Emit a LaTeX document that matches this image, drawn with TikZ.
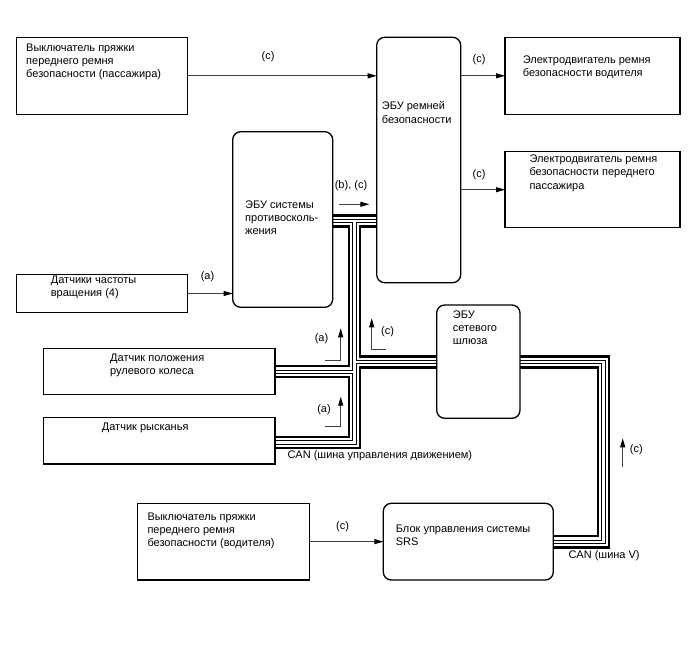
\documentclass[tikz,border=0pt]{standalone}
\usepackage{fontspec}
\setmainfont{Liberation Sans}
\usetikzlibrary{arrows.meta}
\pgfdeclarelayer{background}
\pgfsetlayers{background,main}
\begin{document}
\begin{tikzpicture}[x=1pt,y=-1pt,
  box/.style={draw=black, line width=1.3pt, fill=white, inner sep=0pt, outer sep=0pt},
  rbox/.style={box, rounded corners=8pt},
  txt/.style={font=\fontsize{11}{13.2}\selectfont, anchor=north west, inner sep=0pt, align=left},
  lbl/.style={font=\fontsize{11}{13.2}\selectfont, inner sep=0pt},
  arr/.style={draw=black!75, line width=0.9pt, -{Triangle[length=9pt,width=5pt,color=black]}},
  busA/.style={draw=black, line width=13.5pt, line join=miter, line cap=butt},
  busB/.style={draw=white, line width=8.9pt, line join=miter, line cap=butt},
  busC/.style={draw=black, line width=4.4pt, line join=miter, line cap=butt},
  busD/.style={draw=white, line width=2.2pt, line join=miter, line cap=butt}]
\useasboundingbox (0,0) rectangle (688,658);

% boxes
\node[box, minimum width=171pt, minimum height=77pt] (pbs) at (102.2,75.8) {};
\node[rbox, minimum width=84pt, minimum height=245.4pt] (sbe) at (418.7,160) {};
\node[box, minimum width=175pt, minimum height=77pt] (m1) at (592.5,75.8) {};
\node[box, minimum width=175pt, minimum height=76pt] (m2) at (592.5,189.7) {};
\node[rbox, minimum width=100pt, minimum height=175.6pt] (abs) at (282.7,219.5) {};
\node[box, minimum width=171pt, minimum height=38.4pt] (wss) at (102.2,293.5) {};
\node[box, minimum width=231.7pt, minimum height=45.6pt] (steer) at (159.15,371.5) {};
\node[box, minimum width=231.7pt, minimum height=46.3pt] (yaw) at (159.15,440.85) {};
\node[rbox, minimum width=83.3pt, minimum height=113.3pt] (gw) at (478.35,361.65) {};
\node[box, minimum width=172pt, minimum height=76.7pt] (dbs) at (223.3,541.65) {};
\node[rbox, minimum width=170pt, minimum height=76.7pt] (srs) at (468.3,541.65) {};

% box texts
\node[txt] (tpbs) at (26,43.8) {Выключатель пряжки\\переднего ремня\\безопасности (пассажира)};
\node[txt] (tsbe) at (381.7,101.5) {ЭБУ ремней\\безопасности};
\node[txt] (tm1) at (522.7,55.5) {Электродвигатель ремня\\безопасности водителя};
\node[txt] (tm2) at (529.3,154.8) {Электродвигатель ремня\\безопасности переднего\\пассажира};
\node[txt] (tabs) at (245,200.5) {ЭБУ системы\\противосколь-\\жения};
\node[txt] (twss) at (50.7,275.5) {Датчики частоты\\вращения (4)};
\node[txt] (tsteer) at (110,353.8) {Датчик положения\\рулевого колеса};
\node[txt] (tyaw) at (101.7,422.8) {Датчик рысканья};
\node[txt] (tgw) at (452.7,310.5) {ЭБУ\\сетевого\\шлюза};
\node[txt] (tdbs) at (147.3,512.8) {Выключатель пряжки\\переднего ремня\\безопасности (водителя)};
\node[txt] (tsrs) at (395.7,524.8) {Блок управления системы\\SRS};

% labels
\node[lbl] (lc1) at (268,56.7) {(c)};
\node[lbl] (lc2) at (479,60) {(c)};
\node[lbl] (lc3) at (479,175) {(c)};
\node[lbl] (lbc) at (351,185.7) {(b), (c)};
\node[lbl] (la1) at (207.5,276.7) {(a)};
\node[lbl] (la2) at (321.5,338.3) {(a)};
\node[lbl] (la3) at (324,410) {(a)};
\node[lbl] (lc4) at (387.5,331.7) {(c)};
\node[lbl, anchor=west] (lcan1) at (287.3,455.5) {CAN (шина управления движением)};
\node[lbl] (lc5) at (636.3,449.3) {(c)};
\node[lbl, anchor=west] (lcan2) at (568.3,555.7) {CAN (шина V)};
\node[lbl] (lc6) at (342.5,526.7) {(c)};

% bus junction coordinates
\coordinate (jt) at (354.5,221);
\coordinate (jb) at (354.5,442.5);
\coordinate (js) at (354.5,371.7);
\coordinate (jg) at (354.5,362);
\coordinate (cr1) at (603.5,362);
\coordinate (cr2) at (603.5,541.8);

\def\busnet{(abs.east |- jt) -- (sbe.west |- jt)
  (jt) -- (jb) -- (yaw.east |- jb)
  (js) -- (steer.east |- js)
  (jg) -- (gw.west |- jg)
  (gw.east |- cr1) -- (cr1) -- (cr2) -- (srs.east |- cr2)}
\begin{pgfonlayer}{background}
\draw[busA] \busnet;
\draw[busB] \busnet;
\draw[busC] \busnet;
\draw[busD] \busnet;
\end{pgfonlayer}

% arrow connectors
\draw[arr] (pbs.east) -- (pbs.east -| sbe.west);
\draw[arr] (m1.west -| sbe.east) -- (m1.west);
\draw[arr] (m2.west -| sbe.east) -- (m2.west);
\draw[arr] (wss.east) -- (wss.east -| abs.west);
\draw[arr] (dbs.east) -- (srs.west);

% free-standing direction arrows
\coordinate (bcS) at (339.3,204.3);
\coordinate (bcE) at (369.3,204.3);
\draw[arr] (bcS) -- (bcE);
\coordinate (a1s) at (325,360);
\coordinate (a1c) at (340.7,360);
\coordinate (a1e) at (340.7,328.3);
\draw[arr] (a1s) -- (a1c) -- (a1e);
\coordinate (a2s) at (325,426.7);
\coordinate (a2c) at (340.7,426.7);
\coordinate (a2e) at (340.7,396.7);
\draw[arr] (a2s) -- (a2c) -- (a2e);
\coordinate (c1s) at (386,349.3);
\coordinate (c1c) at (371.7,349.3);
\coordinate (c1e) at (371.7,318.3);
\draw[arr] (c1s) -- (c1c) -- (c1e);
\coordinate (c2s) at (622.7,466.7);
\coordinate (c2e) at (622.7,438.3);
\draw[arr] (c2s) -- (c2e);
\end{tikzpicture}
\end{document}
